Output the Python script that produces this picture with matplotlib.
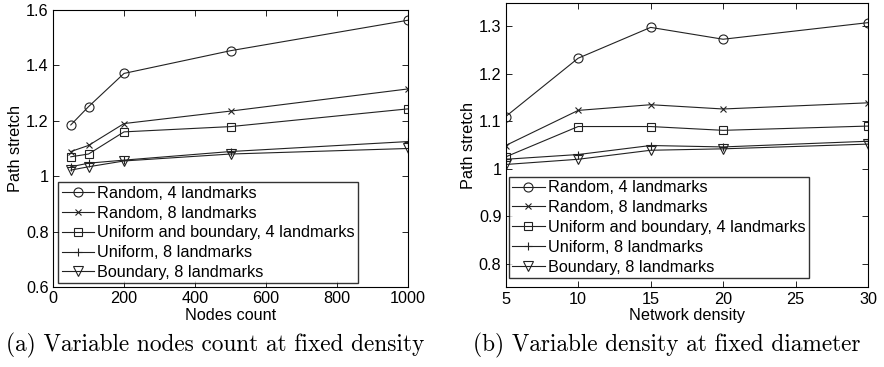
import numpy as np
import matplotlib
matplotlib.use("Agg")
import matplotlib.pyplot as plt
from matplotlib.ticker import FormatStrFormatter

# (a) variable nodes count at fixed density
nodes = [50, 100, 200, 500, 1000]
a_random4 = [1.185, 1.251, 1.371, 1.453, 1.563]
a_random8 = [1.089, 1.111, 1.190, 1.235, 1.315]
a_unibnd4 = [1.070, 1.080, 1.160, 1.179, 1.243]
a_uniform8 = [1.034, 1.047, 1.058, 1.089, 1.125]
a_boundary8 = [1.022, 1.034, 1.055, 1.080, 1.100]

# (b) variable density at fixed diameter
density = [5, 10, 15, 20, 30]
b_random4 = [1.110, 1.233, 1.298, 1.273, 1.308]
b_random8 = [1.049, 1.123, 1.135, 1.126, 1.139]
b_unibnd4 = [1.025, 1.089, 1.089, 1.081, 1.090]
b_uniform8 = [1.020, 1.030, 1.049, 1.046, 1.058]
b_boundary8 = [1.009, 1.020, 1.039, 1.042, 1.052]

labels = ['Random, 4 landmarks', 'Random, 8 landmarks',
          'Uniform and boundary, 4 landmarks', 'Uniform, 8 landmarks',
          'Boundary, 8 landmarks']
markers = ['o', 'x', 's', '+', 'v']
msizes = [6.5, 4.5, 5.5, 6, 6.5]

plt.rcParams['font.family'] = ['Liberation Sans', 'DejaVu Sans']
FS = 11.7

fig = plt.figure(figsize=(8.84, 3.67), dpi=100)
ax1 = fig.add_axes([0.060, 0.218, 0.4015, 0.7548])
ax2 = fig.add_axes([0.572, 0.217, 0.410, 0.7756])


def draw(ax, x, series, loc):
    for ys, m, ms, lab in zip(series, markers, msizes, labels):
        ax.plot(x, ys, color='#222222', linewidth=0.8, marker=m, markersize=ms,
                markerfacecolor='none', markeredgecolor='#222222',
                markeredgewidth=0.8, label=lab)
    ax.tick_params(direction='in', top=True, right=True, labelsize=FS,
                   length=4, width=0.6, pad=3)
    for s in ax.spines.values():
        s.set_linewidth(0.8)
    ax.set_ylabel('Path stretch', fontsize=FS, labelpad=2)
    leg = ax.legend(loc='lower left', bbox_to_anchor=loc, fontsize=FS,
                    frameon=True, fancybox=False, edgecolor='black',
                    handlelength=2.0, handletextpad=0.2, borderpad=0.2,
                    labelspacing=0.3, borderaxespad=0)
    leg.get_frame().set_linewidth(1.0)


draw(ax1, nodes, [a_random4, a_random8, a_unibnd4, a_uniform8, a_boundary8],
     (0.015, 0.013))
ax1.set_xlim(0, 1000)
ax1.set_ylim(0.6, 1.6)
ax1.set_xticks([0, 200, 400, 600, 800, 1000])
ax1.set_yticks([0.6, 0.8, 1.0, 1.2, 1.4, 1.6])
ax1.yaxis.set_major_formatter(FormatStrFormatter('%g'))
ax1.set_xlabel('Nodes count', fontsize=FS, labelpad=1)

draw(ax2, density, [b_random4, b_random8, b_unibnd4, b_uniform8, b_boundary8],
     (0.009, 0.033))
ax2.set_xlim(5, 30)
ax2.set_ylim(0.75, 1.35)
ax2.set_xticks([5, 10, 15, 20, 25, 30])
ax2.set_yticks([0.8, 0.9, 1.0, 1.1, 1.2, 1.3])
ax2.yaxis.set_major_formatter(FormatStrFormatter('%g'))
ax2.set_xlabel('Network density', fontsize=FS, labelpad=1)

fig.text(0.2435, 0.06, '(a) Variable nodes count at fixed density',
         family='cmr10', fontsize=16.8, ha='center', va='center')
fig.text(0.754, 0.06, '(b) Variable density at fixed diameter',
         family='cmr10', fontsize=16.8, ha='center', va='center')

fig.savefig('out.png', dpi=100)
